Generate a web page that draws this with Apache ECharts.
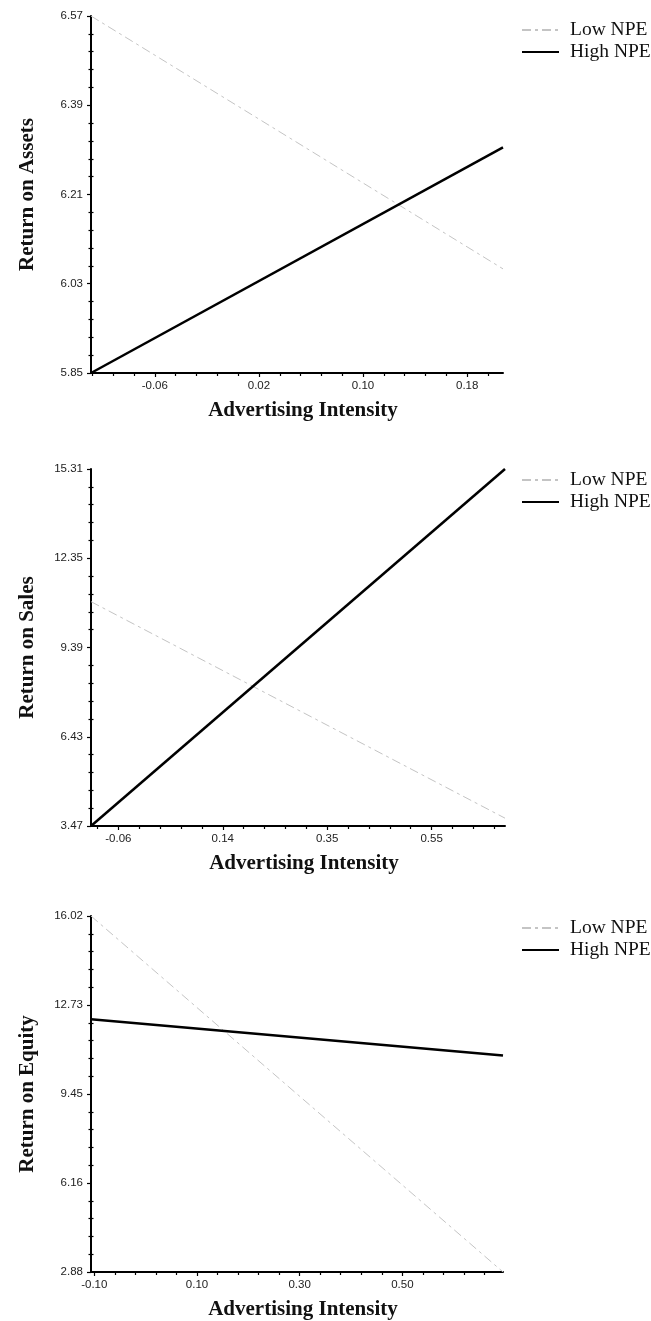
<!DOCTYPE html>
<html>
<head>
<meta charset="utf-8">
<title>Advertising Intensity and Firm Returns by NPE</title>
<script src="https://cdn.jsdelivr.net/npm/echarts@6/dist/echarts.min.js"></script>
<style>
  html, body { margin: 0; padding: 0; background: #fff; }
  #chart { width: 651px; height: 1321px; }
</style>
</head>
<body>
<div id="chart"></div>
<script>
// ---- Panel 1: Return on Assets ----
const roaX = [-0.109, 0.2075];
const roaLow = [6.57, 6.06];
const roaHigh = [5.85, 6.305];
const roaXTicks = [-0.06, 0.02, 0.10, 0.18];
const roaXLabels = ['-0.06', '0.02', '0.10', '0.18'];
const roaYTicks = [5.85, 6.03, 6.21, 6.39, 6.57];
const roaYLabels = ['5.85', '6.03', '6.21', '6.39', '6.57'];

// ---- Panel 2: Return on Sales ----
const rosX = [-0.111, 0.690];
const rosLow = [10.91, 3.73];
const rosHigh = [3.47, 15.31];
const rosXTicks = [-0.058, 0.144, 0.346, 0.548];
const rosXLabels = ['-0.06', '0.14', '0.35', '0.55'];
const rosYTicks = [3.47, 6.43, 9.39, 12.35, 15.31];
const rosYLabels = ['3.47', '6.43', '9.39', '12.35', '15.31'];

// ---- Panel 3: Return on Equity ----
const roeX = [-0.1064, 0.696];
const roeLow = [16.02, 2.88];
const roeHigh = [12.21, 10.87];
const roeXTicks = [-0.10, 0.10, 0.30, 0.50];
const roeXLabels = ['-0.10', '0.10', '0.30', '0.50'];
const roeYTicks = [2.88, 6.165, 9.45, 12.735, 16.02];
const roeYLabels = ['2.88', '6.16', '9.45', '12.73', '16.02'];

const seriesNames = ['Low NPE', 'High NPE'];
const xTitle = 'Advertising Intensity';

const panels = [
  { x: roaX, low: roaLow, high: roaHigh, xTicks: roaXTicks, xLabels: roaXLabels,
    yTicks: roaYTicks, yLabels: roaYLabels, yTitle: 'Return on Assets',
    grid: { left: 91, top: 16, width: 412, height: 357 }, legendTop: 19 },
  { x: rosX, low: rosLow, high: rosHigh, xTicks: rosXTicks, xLabels: rosXLabels,
    yTicks: rosYTicks, yLabels: rosYLabels, yTitle: 'Return on Sales',
    grid: { left: 91, top: 469, width: 414, height: 357 }, legendTop: 469 },
  { x: roeX, low: roeLow, high: roeHigh, xTicks: roeXTicks, xLabels: roeXLabels,
    yTicks: roeYTicks, yLabels: roeYLabels, yTitle: 'Return on Equity',
    grid: { left: 91, top: 916, width: 412, height: 356 }, legendTop: 917 }
];

// minor tick positions: five subdivisions between labelled ticks, across the axis range
function minorPositions(ticks, min, max) {
  const step = (ticks[1] - ticks[0]) / 5;
  const out = [];
  for (let k = -40; k <= 40; k++) {
    if (k % 5 === 0) continue;
    const v = ticks[0] + k * step;
    if (v > min + 1e-9 && v < max - 1e-9) out.push(v);
  }
  return out;
}

function labelFor(ticks, labels) {
  return function (value) {
    let best = 0;
    for (let i = 1; i < ticks.length; i++) {
      if (Math.abs(ticks[i] - value) < Math.abs(ticks[best] - value)) best = i;
    }
    return labels[best];
  };
}

const axisColor = '#000';
const titleFont = { fontFamily: 'Liberation Serif', fontWeight: 'bold', fontSize: 21, color: '#111' };
const tickFont = { fontFamily: 'Liberation Sans', fontSize: 11.5, color: '#222' };

const grids = [], xAxes = [], yAxes = [], series = [], legends = [];

panels.forEach(function (p, i) {
  grids.push(p.grid);
  const xMin = p.x[0], xMax = p.x[1];
  const yMin = p.yTicks[0], yMax = p.yTicks[p.yTicks.length - 1];

  const mainX = xAxes.length;
  xAxes.push({
    type: 'value', gridIndex: i, position: 'bottom', offset: 0, min: xMin, max: xMax,
    name: xTitle, nameLocation: 'middle', nameGap: 27,
    nameTextStyle: Object.assign({ padding: [0, 0, 0, 12] }, titleFont),
    axisLine: { show: true, onZero: false, lineStyle: { color: axisColor, width: 2 } },
    axisTick: { show: true, length: 4, customValues: p.xTicks, lineStyle: { color: axisColor, width: 1.2 } },
    axisLabel: Object.assign({ customValues: p.xTicks, margin: 7, formatter: labelFor(p.xTicks, p.xLabels) }, tickFont),
    splitLine: { show: false }
  });
  // minor ticks on the horizontal axis
  xAxes.push({
    type: 'value', gridIndex: i, position: 'bottom', offset: 0, min: xMin, max: xMax,
    axisLine: { show: false, onZero: false },
    axisTick: { show: true, length: 3, customValues: minorPositions(p.xTicks, xMin, xMax), lineStyle: { color: axisColor, width: 1.2 } },
    axisLabel: { show: false }, splitLine: { show: false }
  });

  const mainY = yAxes.length;
  yAxes.push({
    type: 'value', gridIndex: i, position: 'left', offset: 0, min: yMin, max: yMax,
    name: p.yTitle, nameLocation: 'middle', nameGap: 53, nameRotate: 90,
    nameTextStyle: titleFont,
    axisLine: { show: true, onZero: false, lineStyle: { color: axisColor, width: 2 } },
    axisTick: { show: true, length: 4, customValues: p.yTicks, lineStyle: { color: axisColor, width: 1.2 } },
    axisLabel: Object.assign({ customValues: p.yTicks, margin: 8, formatter: labelFor(p.yTicks, p.yLabels) }, tickFont),
    splitLine: { show: false }
  });
  // minor ticks crossing the vertical axis (one set outside, one inside)
  const yMinor = minorPositions(p.yTicks, yMin, yMax);
  [false, true].forEach(function (inside) {
    yAxes.push({
      type: 'value', gridIndex: i, position: 'left', offset: 0, min: yMin, max: yMax,
      axisLine: { show: false, onZero: false },
      axisTick: { show: true, inside: inside, length: 2.5, customValues: yMinor, lineStyle: { color: axisColor, width: 1.2 } },
      axisLabel: { show: false }, splitLine: { show: false }
    });
  });

  series.push({
    name: seriesNames[0], type: 'line', xAxisIndex: mainX, yAxisIndex: mainY,
    data: p.x.map(function (x, k) { return [x, p.low[k]]; }),
    symbol: 'none', silent: true,
    lineStyle: { color: '#c4c4c4', width: 1, type: [9, 4, 3, 4] },
    itemStyle: { color: '#c4c4c4' }
  });
  series.push({
    name: seriesNames[1], type: 'line', xAxisIndex: mainX, yAxisIndex: mainY,
    data: p.x.map(function (x, k) { return [x, p.high[k]]; }),
    symbol: 'none', silent: true,
    lineStyle: { color: '#000', width: 2.5 },
    itemStyle: { color: '#000' }
  });

  legends.push({
    data: seriesNames, orient: 'vertical', left: 521, top: p.legendTop,
    padding: 0, itemWidth: 37, itemHeight: 14, itemGap: 0,
    selectedMode: false,
    itemStyle: { opacity: 0 },
    textStyle: { fontFamily: 'Liberation Serif', fontSize: 19.5, lineHeight: 22, color: '#111', padding: [0, 0, 0, 6] }
  });
});

const chart = echarts.init(document.getElementById('chart'), null, { renderer: 'canvas' });
chart.setOption({
  animation: false,
  backgroundColor: '#fff',
  grid: grids,
  xAxis: xAxes,
  yAxis: yAxes,
  legend: legends,
  series: series
});
</script>
</body>
</html>
